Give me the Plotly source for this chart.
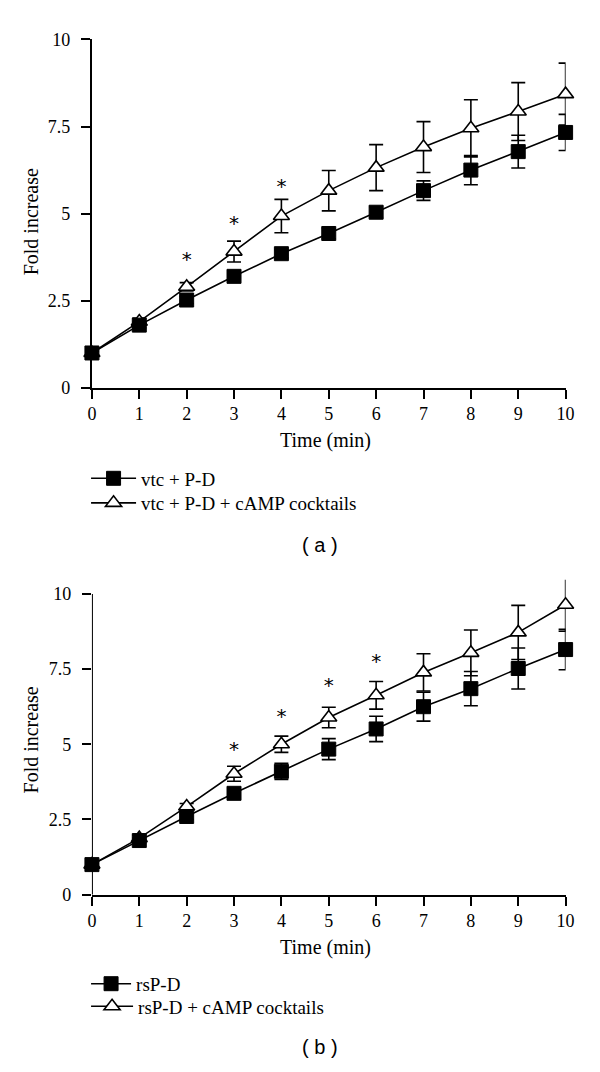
import plotly.graph_objects as go

# ---------------- data ----------------
time_min = [0, 1, 2, 3, 4, 5, 6, 7, 8, 9, 10]

# panel (a)
a_ctrl = [1.0, 1.8, 2.52, 3.2, 3.85, 4.43, 5.04, 5.66, 6.25, 6.78, 7.33]
a_ctrl_err = [0.05, 0.08, 0.1, 0.1, 0.12, 0.15, 0.15, 0.28, 0.42, 0.47, 0.52]
a_camp = [1.0, 1.9, 2.9, 3.91, 4.93, 5.66, 6.32, 6.91, 7.45, 7.93, 8.43]
a_camp_err = [0.05, 0.1, 0.12, 0.3, 0.48, 0.58, 0.66, 0.73, 0.82, 0.83, 0.89]
a_star_x = [2, 3, 4]
a_star_y = [3.65, 4.67, 5.74]

# panel (b)
b_ctrl = [1.0, 1.8, 2.6, 3.37, 4.1, 4.84, 5.51, 6.25, 6.85, 7.52, 8.15]
b_ctrl_err = [0.05, 0.08, 0.1, 0.12, 0.27, 0.35, 0.42, 0.48, 0.57, 0.68, 0.67]
b_camp = [1.0, 1.88, 2.93, 4.02, 5.0, 5.89, 6.63, 7.39, 8.04, 8.72, 9.64]
b_camp_err = [0.05, 0.1, 0.1, 0.25, 0.27, 0.34, 0.46, 0.62, 0.76, 0.9, 0.88]
b_star_x = [3, 4, 5, 6]
b_star_y = [4.78, 5.87, 6.9, 7.7]

x_ticks = list(range(11))
y_ticks = [0, 2.5, 5, 7.5, 10]
y_ticktext = ["0", "2.5", "5", "7.5", "10"]

names_a = ["vtc + P-D", "vtc + P-D + cAMP cocktails"]
names_b = ["rsP-D", "rsP-D + cAMP cocktails"]

# ---------------- figure ----------------
W, H = 600, 1072
SERIF = "Liberation Serif, Times New Roman, serif"
SANS = "Liberation Sans, Arial, sans-serif"


def px(yp):
    return 1 - yp / H


fig = go.Figure()


def add_panel(xa, ya, leg_ctrl, leg_camp, ctrl, ctrl_err, camp, camp_err, names, sx, sy):
    err_style = dict(type="data", thickness=1.6, width=7, color="black")
    fig.add_trace(go.Scatter(
        x=time_min, y=camp, name=names[1], xaxis=xa, yaxis=ya, legend=leg_camp,
        mode="lines+markers", cliponaxis=False,
        line=dict(color="black", width=1.6),
        marker=dict(symbol="triangle-up", size=14, color="white",
                    line=dict(color="black", width=1.6)),
        error_y=dict(array=camp_err, **err_style),
    ))
    fig.add_trace(go.Scatter(
        x=time_min, y=ctrl, name=names[0], xaxis=xa, yaxis=ya, legend=leg_ctrl,
        mode="lines+markers", cliponaxis=False,
        line=dict(color="black", width=1.6),
        marker=dict(symbol="square", size=14, color="black",
                    line=dict(color="black", width=1)),
        error_y=dict(array=ctrl_err, **err_style),
    ))
    fig.add_trace(go.Scatter(
        x=sx, y=sy, xaxis=xa, yaxis=ya, mode="text", text=["*"] * len(sx),
        textposition="middle center", showlegend=False, cliponaxis=False,
        textfont=dict(family="DejaVu Sans, sans-serif", size=20, color="black"),
    ))


add_panel("x", "y", "legend", "legend2", a_ctrl, a_ctrl_err, a_camp, a_camp_err,
          names_a, a_star_x, a_star_y)
add_panel("x2", "y2", "legend3", "legend4", b_ctrl, b_ctrl_err, b_camp, b_camp_err,
          names_b, b_star_x, b_star_y)

xdom = [89 / W, 574 / W]
axis_common = dict(
    showgrid=False, zeroline=False, showline=True, linecolor="black", linewidth=2,
    ticks="outside", ticklen=9, tickwidth=2, tickcolor="black",
    tickfont=dict(family=SERIF, size=18, color="black"), layer="below traces",
)


def leg(top, iw):
    return dict(x=83 / W, xanchor="left", y=px(top), yanchor="top",
                font=dict(family=SERIF, size=19, color="black"),
                bgcolor="rgba(0,0,0,0)", itemwidth=iw)


fig.update_layout(
    width=W, height=H,
    margin=dict(l=0, r=0, t=0, b=0),
    paper_bgcolor="white", plot_bgcolor="white",
    showlegend=True,
    xaxis=dict(domain=xdom, anchor="y", range=[0, 10], tickvals=x_ticks, **axis_common),
    yaxis=dict(domain=[px(385), px(30)], anchor="x", range=[0, 10],
               tickvals=y_ticks, ticktext=y_ticktext, ticklabelstandoff=7, **axis_common),
    xaxis2=dict(domain=xdom, anchor="y2", range=[0, 10], tickvals=x_ticks, **axis_common),
    yaxis2=dict(domain=[px(901.5), px(580.6)], anchor="x2", range=[0, 10.47],
                tickvals=y_ticks, ticktext=y_ticktext, ticklabelstandoff=7,
                **{**axis_common, "showline": False}),
    legend=leg(458, 45),
    legend2=leg(483, 45),
    legend3=leg(973, 40),
    legend4=leg(996, 42),
)

# y axis line of panel (b) stops at 10 (error bar may extend above)
fig.add_shape(type="line", xref="x2", yref="y2", x0=0, x1=0, y0=0, y1=10,
              line=dict(color="black", width=2), layer="below")

annos = [
    dict(text="Time (min)", x=328 / W, y=px(439)),
    dict(text="Time (min)", x=328 / W, y=px(955)),
    dict(text="Fold increase", x=27 / W, y=px(216), textangle=-90),
    dict(text="Fold increase", x=27 / W, y=px(744), textangle=-90),
]
for a in annos:
    fig.add_annotation(xref="paper", yref="paper", showarrow=False,
                       xanchor="center", yanchor="middle",
                       font=dict(family=SERIF, size=20, color="black"), **a)

for lbl, yp in [("( a )", 545), ("( b )", 1057)]:
    fig.add_annotation(xref="paper", yref="paper", showarrow=False, text=lbl,
                       x=323 / W, y=px(yp), xanchor="center", yanchor="middle",
                       font=dict(family=SANS, size=20, color="black"))

fig.write_html("out.html", config={"displayModeBar": False},
               post_script="document.body.style.margin='0px';")
